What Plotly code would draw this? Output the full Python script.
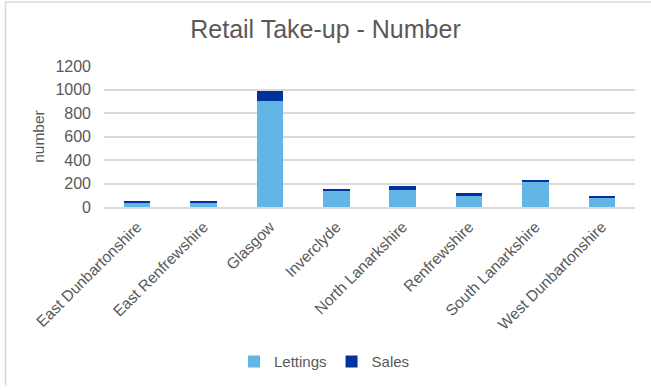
import plotly.graph_objects as go

categories = ["East Dunbartonshire", "East Renfrewshire", "Glasgow", "Inverclyde",
              "North Lanarkshire", "Renfrewshire", "South Lanarkshire", "West Dunbartonshire"]
lettings = [36, 36, 906, 143, 143, 92, 210, 79]
sales = [8, 8, 84, 14, 39, 23, 22, 8]
y_ticks = [0, 200, 400, 600, 800, 1000, 1200]

W, H = 651, 390
L, R, T, B = 104, 16, 66, 181
pw, ph = W - L - R, H - T - B


def px_x(px):
    return (px - L) / pw


def px_y(py):
    return (H - B - py) / ph


fig = go.Figure()
fig.add_trace(go.Bar(name="Lettings", x=categories, y=lettings, marker_color="#62B5E5",
                     marker_line_width=0))
fig.add_trace(go.Bar(name="Sales", x=categories, y=sales, marker_color="#0033A0",
                     marker_line_width=0))

border = dict(color="#D9D9D9", width=1.5)
fig.add_shape(type="line", xref="paper", yref="paper",
              x0=px_x(5.5), x1=px_x(5.5), y0=px_y(H), y1=px_y(0.5), line=border)
fig.add_shape(type="line", xref="paper", yref="paper",
              x0=px_x(5.5), x1=px_x(W), y0=px_y(1), y1=px_y(1), line=border)

fig.update_layout(
    width=W, height=H,
    margin=dict(l=L, r=R, t=T, b=B),
    barmode="stack", bargap=0.6,
    paper_bgcolor="white", plot_bgcolor="white",
    font=dict(family="Liberation Sans, Arial, sans-serif", color="#595959", size=14),
    title=dict(text="Retail Take-up - Number", x=0.5, xanchor="center", y=1 - 29 / H,
               yanchor="middle", font=dict(size=25, color="#595959")),
    xaxis=dict(tickangle=-45, showline=True, linecolor="#D9D9D9", linewidth=1.5,
               ticks="", ticklabelstandoff=3, tickfont=dict(size=15.5, color="#595959")),
    yaxis=dict(range=[0, 1200], tickvals=y_ticks, showgrid=True, gridcolor="#D9D9D9",
               gridwidth=1.5, zeroline=False, ticks="", ticklabelstandoff=12,
               tickfont=dict(size=16, color="#595959"),
               title=dict(text="number", font=dict(size=15.5, color="#595959"), standoff=6)),
    legend=dict(orientation="h", x=0.5 - 45 / pw, xanchor="center", y=px_y(366),
                yanchor="middle", font=dict(size=15, color="#595959"), itemwidth=30,
                traceorder="normal"),
)

fig.write_html("out.html")
